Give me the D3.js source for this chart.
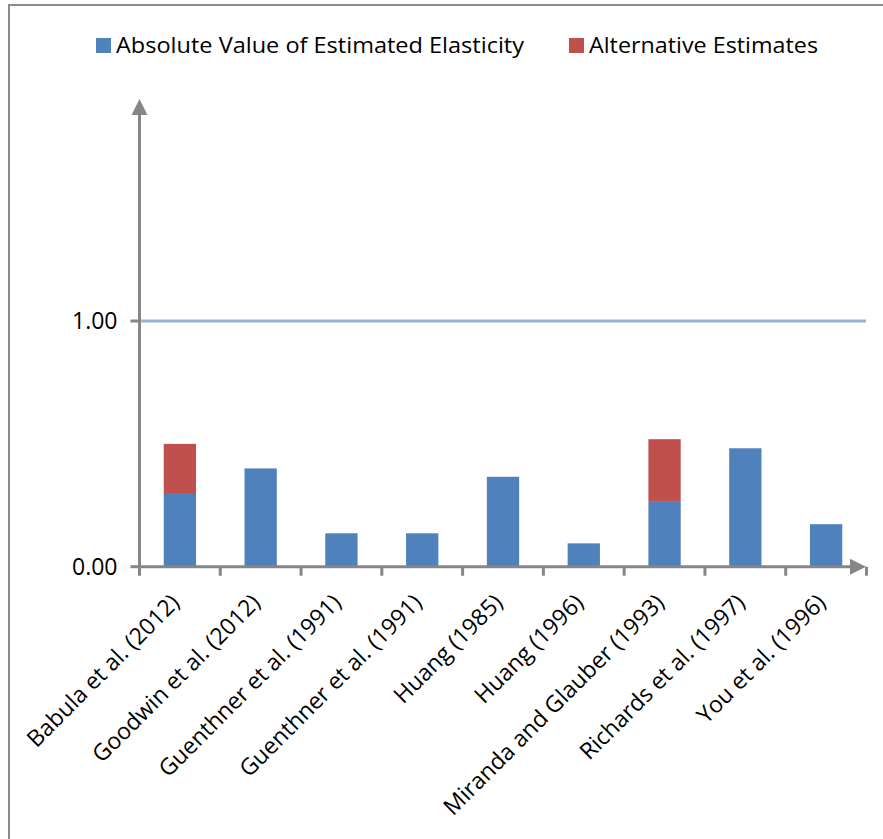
<!DOCTYPE html>
<html>
<head>
<meta charset="utf-8">
<script src="https://cdn.jsdelivr.net/npm/d3@7"></script>
<style>
  html, body { margin: 0; padding: 0; background: #fff; }
  svg { display: block; }
  text { font-family: "Open Sans", "Noto Sans", sans-serif; fill: #000; }
</style>
</head>
<body>
<svg id="chart" width="883" height="839"></svg>
<script>
// Studies and their elasticity estimates
const studies = [
  "Babula et al. (2012)",
  "Goodwin et al. (2012)",
  "Guenthner et al. (1991)",
  "Guenthner et al. (1991)",
  "Huang (1985)",
  "Huang (1996)",
  "Miranda and Glauber (1993)",
  "Richards et al. (1997)",
  "You et al. (1996)"
];
const elasticity  = [0.30, 0.40, 0.136, 0.136, 0.366, 0.095, 0.267, 0.482, 0.173];
const alternative = [0.20, 0,    0,     0,     0,     0,     0.252, 0,     0];
const yTicks = [0, 1];
const referenceLevel = 1;
const seriesNames = ["Absolute Value of Estimated Elasticity", "Alternative Estimates"];
const seriesColors = ["#4f81bd", "#c0504d"];

const svg = d3.select("#chart");
const axisColor = "#868686";

// frame around the chart area
svg.append("path")
  .attr("d", "M9,839 V5 H883")
  .attr("fill", "none")
  .attr("stroke", "#8c8c8c")
  .attr("stroke-width", 2);

const x = d3.scaleBand()
  .domain(d3.range(studies.length))
  .range([139.5, 866.5])
  .paddingInner(0.6)
  .paddingOuter(0.3);

const y = d3.scaleLinear()
  .domain([0, 1.9])
  .range([566.7, 99.9]);

// stack the two series
const rows = studies.map((s, i) => ({ i, base: elasticity[i], alt: alternative[i] }));
const stacked = d3.stack().keys(["base", "alt"])(rows);

// reference line at 1.00
svg.append("line")
  .attr("x1", 141).attr("x2", 866)
  .attr("y1", y(referenceLevel)).attr("y2", y(referenceLevel))
  .attr("stroke", "#95b3d7")
  .attr("stroke-width", 3);

// bars
svg.append("g").selectAll("g")
  .data(stacked)
  .join("g")
  .attr("fill", (d, k) => seriesColors[k])
  .selectAll("rect")
  .data(d => d.filter(p => p[1] - p[0] > 0))
  .join("rect")
  .attr("x", p => x(p.data.i))
  .attr("width", x.bandwidth())
  .attr("y", p => y(p[1]))
  .attr("height", p => y(p[0]) - y(p[1]));

// y axis with arrow head
const yAxisG = svg.append("g").attr("transform", "translate(139.5,0)");
yAxisG.append("line")
  .attr("y1", y(0)).attr("y2", 112)
  .attr("stroke", axisColor).attr("stroke-width", 3);
yAxisG.append("path")
  .attr("d", `M0,99 L8,115 L-8,115 Z`)
  .attr("fill", axisColor);
yAxisG.selectAll("line.tick")
  .data(yTicks)
  .join("line")
  .attr("class", "tick")
  .attr("x1", -9).attr("x2", 0)
  .attr("y1", d => y(d)).attr("y2", d => y(d))
  .attr("stroke", axisColor).attr("stroke-width", 3);
yAxisG.selectAll("text")
  .data(yTicks)
  .join("text")
  .attr("x", -22)
  .attr("y", d => y(d))
  .attr("dy", "0.36em")
  .attr("text-anchor", "end")
  .style("font-size", "23px")
  .text(d3.format(".2f"));

// x axis with arrow head
const x0 = y(0);
const xAxisG = svg.append("g");
xAxisG.append("line")
  .attr("x1", 139.5).attr("x2", 852)
  .attr("y1", x0).attr("y2", x0)
  .attr("stroke", axisColor).attr("stroke-width", 3);
xAxisG.append("path")
  .attr("d", `M866,${x0} L850,${x0 - 8} L850,${x0 + 8} Z`)
  .attr("fill", axisColor);
const tickXs = d3.range(studies.length + 1).map(i => 139.5 + i * (866.5 - 139.5) / studies.length);
xAxisG.selectAll("line.tick")
  .data(tickXs)
  .join("line")
  .attr("class", "tick")
  .attr("x1", d => d).attr("x2", d => d)
  .attr("y1", x0).attr("y2", x0 + 9)
  .attr("stroke", axisColor).attr("stroke-width", 3);

// rotated category labels
xAxisG.selectAll("text")
  .data(studies)
  .join("text")
  .attr("text-anchor", "end")
  .attr("transform", (d, i) => {
    const cx = x(i) + x.bandwidth() / 2 + 1;
    return `translate(${cx},604) rotate(-45)`;
  })
  .style("font-size", "23px")
  .text(d => d);

// legend
const legend = svg.append("g");
const legendItems = [
  { name: seriesNames[0], color: seriesColors[0], sx: 96, tx: 116, w: 408 },
  { name: seriesNames[1], color: seriesColors[1], sx: 569, tx: 589, w: 229 }
];
legendItems.forEach(it => {
  legend.append("rect")
    .attr("x", it.sx).attr("y", 38)
    .attr("width", 15).attr("height", 15)
    .attr("fill", it.color);
  legend.append("text")
    .attr("x", it.tx).attr("y", 53)
    .style("font-size", "21px")
    .attr("textLength", it.w)
    .attr("lengthAdjust", "spacingAndGlyphs")
    .text(it.name);
});
</script>
</body>
</html>
